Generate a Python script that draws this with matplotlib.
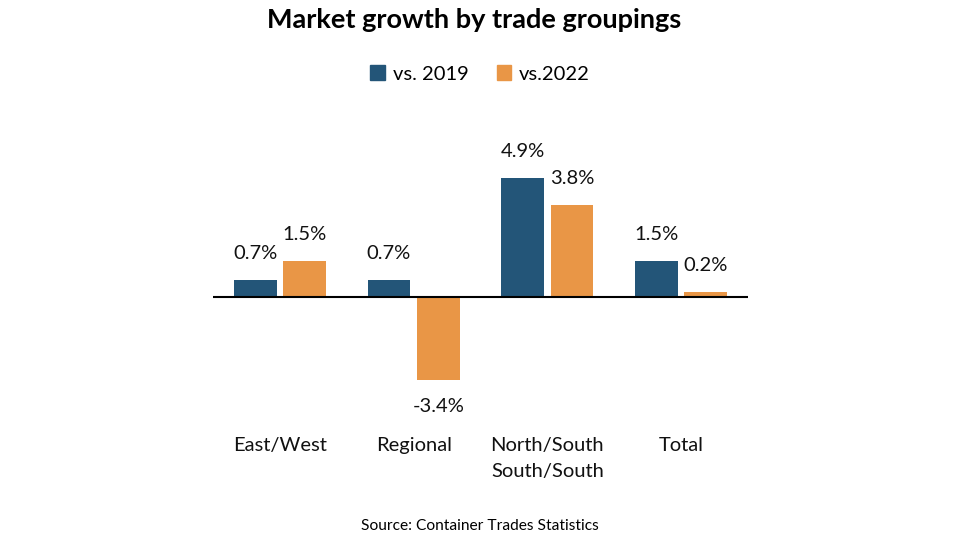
import matplotlib
matplotlib.use("Agg")
import matplotlib.pyplot as plt
from matplotlib.patches import Patch

plt.rcParams["font.family"] = ["Lato", "DejaVu Sans"]

categories = ["East/West", "Regional", "North/South\nSouth/South", "Total"]
vs_2019 = [0.7, 0.7, 4.9, 1.5]
vs_2022 = [1.5, -3.4, 3.8, 0.2]
series_names = ["vs. 2019", "vs.2022"]

BLUE = "#235578"
ORANGE = "#E99646"

fig = plt.figure(figsize=(9.6, 5.4), dpi=100)
ax = fig.add_axes([0.222, 0.27, 0.557, 0.45])

x = list(range(len(categories)))
w = 0.32
gap = 0.025
b1 = ax.bar([i - w / 2 - gap for i in x], vs_2019, width=w, color=BLUE)
b2 = ax.bar([i + w / 2 + gap for i in x], vs_2022, width=w, color=ORANGE)

for bars, vals in ((b1, vs_2019), (b2, vs_2022)):
    for bar, v in zip(bars, vals):
        cx = bar.get_x() + bar.get_width() / 2
        off = 19 if v >= 0 else -19
        ax.annotate(f"{v:.1f}%", (cx, v), xytext=(0, off),
                    textcoords="offset points", ha="center", va="center",
                    fontsize=14.5, color="#111111")

ax.axhline(0, color="black", lw=1.5)
ax.set_xlim(-0.5, len(categories) - 0.5)
ax.set_ylim(-4, 6)
ax.set_yticks([])
ax.set_xticks(x)
ax.set_xticklabels(categories, fontsize=14.5, color="#111111",
                   linespacing=1.65)
ax.tick_params(axis="x", length=0, pad=31)
for s in ax.spines.values():
    s.set_visible(False)

fig.text(0.494, 0.963, "Market growth by trade groupings", ha="center",
         va="center", fontsize=19.5, fontweight="bold")

handles = [Patch(color=BLUE), Patch(color=ORANGE)]
fig.legend(handles, series_names, loc="center", bbox_to_anchor=(0.5, 0.863),
           ncol=2, frameon=False, fontsize=14.5, handlelength=0.7,
           handleheight=0.7, handletextpad=0.4, columnspacing=1.4)

fig.text(0.5, 0.026, "Source: Container Trades Statistics", ha="center",
         va="center", fontsize=11.2)

fig.savefig("out.png", dpi=100)
